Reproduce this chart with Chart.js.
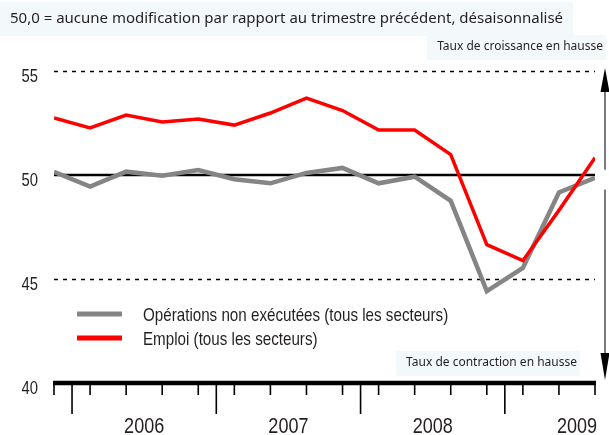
<!DOCTYPE html>
<html lang="fr">
<head>
  <meta charset="UTF-8">
  <title>Opérations non exécutées et emploi</title>
  <script src="https://cdn.jsdelivr.net/npm/chart.js"></script>
  <style>
    body { margin: 0; background: #fff; }
    #wrap { width: 609px; height: 435px; position: relative; }
  </style>
</head>
<body>
  <div id="wrap"><canvas id="chart"></canvas></div>

  <script>
    // quarterly data, Q4 2005 -> Q3 2009
    const quarters = ['T4 2005', 'T1 2006', 'T2 2006', 'T3 2006', 'T4 2006',
                      'T1 2007', 'T2 2007', 'T3 2007', 'T4 2007',
                      'T1 2008', 'T2 2008', 'T3 2008', 'T4 2008',
                      'T1 2009', 'T2 2009', 'T3 2009'];
    const orders = [50.15, 49.44, 50.16, 49.97, 50.24, 49.8, 49.6, 50.1,
                    50.34, 49.6, 49.92, 48.76, 44.42, 45.53, 49.16, 49.86];
    const emploi = [52.74, 52.26, 52.88, 52.55, 52.69, 52.4, 52.98, 53.7,
                    53.1, 52.16, 52.16, 50.98, 46.65, 45.88, 48.3, 50.83];
    const yearLabels = ['2006', '2007', '2008', '2009'];
    const yearTicks = [2.5, 6.5, 10.5, 14.5];
    const yTicks = [40, 45, 50, 55];

    const title = '50,0 = aucune modification par rapport au trimestre précédent, désaisonnalisé';
    const upText = 'Taux de croissance en hausse';
    const downText = 'Taux de contraction en hausse';

    const sans = '"Liberation Sans", Arial, sans-serif';
    const humanist = '"Noto Sans", "Open Sans", sans-serif';
    const boxBg = '#f3f8fb';
    const textCol = '#231f20';

    // year boundaries: halfway between the last quarter of a year and the first of the next
    const yearBreaks = [];
    for (let i = 1; i < quarters.length; i++) {
      if (quarters[i].slice(-4) !== quarters[i - 1].slice(-4)) yearBreaks.push(i - 0.5);
    }

    // no narrow face installed, so squeeze Liberation Sans horizontally
    function narrowText(ctx, text, x, y, size, align) {
      ctx.save();
      ctx.translate(x, y);
      ctx.scale(0.82, 1);
      ctx.font = size + 'px ' + sans;
      ctx.fillStyle = textCol;
      ctx.textAlign = align;
      ctx.textBaseline = 'alphabetic';
      ctx.fillText(text, 0, 0);
      ctx.restore();
    }

    function arrow(ctx, x, y0, y1, head) {
      const dir = y1 < y0 ? -1 : 1;
      ctx.strokeStyle = '#7a7a7a';
      ctx.lineWidth = 2;
      ctx.beginPath();
      ctx.moveTo(x, y0);
      ctx.lineTo(x, y1 - dir * head);
      ctx.stroke();
      ctx.fillStyle = '#000';
      ctx.beginPath();
      ctx.moveTo(x, y1);
      ctx.lineTo(x - 4.5, y1 - dir * head);
      ctx.lineTo(x + 4.5, y1 - dir * head);
      ctx.closePath();
      ctx.fill();
    }

    function labelBox(ctx, text, xRight, yMid) {
      ctx.font = '12px ' + humanist;
      const tw = ctx.measureText(text).width;
      ctx.fillStyle = boxBg;
      ctx.fillRect(xRight - tw - 10, yMid - 12, tw + 13, 25);
      ctx.fillStyle = textCol;
      ctx.textAlign = 'right';
      ctx.textBaseline = 'middle';
      ctx.fillText(text, xRight, yMid);
    }

    const framePlugin = {
      id: 'frame',
      beforeDatasetsDraw(chart) {
        const { ctx, chartArea, scales: { y } } = chart;
        ctx.save();
        ctx.strokeStyle = '#000';
        [45, 55].forEach(v => {
          const py = Math.round(y.getPixelForValue(v)) + 0.5;
          ctx.lineWidth = 1.5;
          ctx.setLineDash([4, 5]);
          ctx.beginPath();
          ctx.moveTo(chartArea.left, py);
          ctx.lineTo(chartArea.right, py);
          ctx.stroke();
        });
        ctx.setLineDash([]);
        const p50 = y.getPixelForValue(50);
        ctx.lineWidth = 2.5;
        ctx.beginPath();
        ctx.moveTo(chartArea.left, p50);
        ctx.lineTo(chartArea.right, p50);
        ctx.stroke();
        ctx.restore();
      },
      afterDraw(chart) {
        const { ctx, chartArea, scales: { x, y } } = chart;
        ctx.save();

        // bottom axis with quarter ticks and year separators
        const base = y.getPixelForValue(40);
        ctx.strokeStyle = '#000';
        ctx.lineWidth = 1.6;
        quarters.forEach((q, i) => {
          const px = x.getPixelForValue(i);
          ctx.beginPath();
          ctx.moveTo(px, base);
          ctx.lineTo(px, base + 12);
          ctx.stroke();
        });
        yearBreaks.forEach(v => {
          const px = x.getPixelForValue(v);
          ctx.beginPath();
          ctx.moveTo(px, base);
          ctx.lineTo(px, base + 31);
          ctx.stroke();
        });
        ctx.lineWidth = 4.5;
        ctx.beginPath();
        ctx.moveTo(chartArea.left - 1, base);
        ctx.lineTo(chartArea.right + 1, base);
        ctx.stroke();

        // tick labels
        yearLabels.forEach((t, i) => narrowText(ctx, t, x.getPixelForValue(yearTicks[i]), base + 50, 22, 'center'));
        y.ticks.forEach(t => narrowText(ctx, String(t.value), 38, y.getPixelForValue(t.value) + 11, 18, 'right'));

        // legend
        const ds = chart.data.datasets;
        [1, 0].forEach((k, row) => {
          const ly = 314 + row * 24;
          ctx.strokeStyle = ds[k].borderColor;
          ctx.lineWidth = 5;
          ctx.beginPath();
          ctx.moveTo(77, ly);
          ctx.lineTo(122, ly);
          ctx.stroke();
          narrowText(ctx, ds[k].label, 143, ly + 6.5, 18.5, 'left');
        });

        // heading
        ctx.font = '15px ' + humanist;
        const tw = ctx.measureText(title).width;
        ctx.fillStyle = boxBg;
        ctx.fillRect(0, 2, tw + 20, 34);
        ctx.fillStyle = textCol;
        ctx.textAlign = 'left';
        ctx.textBaseline = 'middle';
        ctx.fillText(title, 10, 19);

        // growth / contraction notes and arrows
        labelBox(ctx, upText, 603, 47);
        labelBox(ctx, downText, 577, 363);
        const ax = chartArea.right + 10;
        arrow(ctx, ax, y.getPixelForValue(50.25), y.getPixelForValue(55.15), 24);
        arrow(ctx, ax, y.getPixelForValue(49.3), y.getPixelForValue(40.15), 27);

        ctx.restore();
      }
    };

    new Chart(document.getElementById('chart'), {
      type: 'line',
      data: {
        datasets: [{
          label: 'Emploi (tous les secteurs)',
          data: emploi.map((v, i) => ({ x: i, y: v })),
          borderColor: '#ff0000',
          borderWidth: 3.5,
          order: 0
        }, {
          label: 'Opérations non exécutées (tous les secteurs)',
          data: orders.map((v, i) => ({ x: i, y: v })),
          borderColor: '#858585',
          borderWidth: 4.5,
          order: 1
        }]
      },
      options: {
        responsive: true,
        maintainAspectRatio: false,
        animation: false,
        layout: { padding: { top: 71, right: 14, left: 0, bottom: 0 } },
        elements: {
          point: { radius: 0 },
          line: { tension: 0, borderJoinStyle: 'miter', fill: false }
        },
        scales: {
          x: {
            type: 'linear',
            min: 0,
            max: quarters.length - 1,
            afterBuildTicks: s => { s.ticks = yearTicks.map(v => ({ value: v })); },
            afterFit: s => { s.height = 52; s.paddingLeft = 0; s.paddingRight = 0; },
            grid: { display: false, drawTicks: false },
            border: { display: false },
            ticks: { display: false }
          },
          y: {
            min: 40,
            max: 55,
            afterBuildTicks: s => { s.ticks = yTicks.map(v => ({ value: v })); },
            afterFit: s => { s.width = 54; s.paddingTop = 0; s.paddingBottom = 0; },
            grid: { display: false, drawTicks: false },
            border: { display: false },
            ticks: { display: false }
          }
        },
        plugins: {
          legend: { display: false },
          tooltip: { enabled: false }
        }
      },
      plugins: [framePlugin]
    });
  </script>
</body>
</html>
